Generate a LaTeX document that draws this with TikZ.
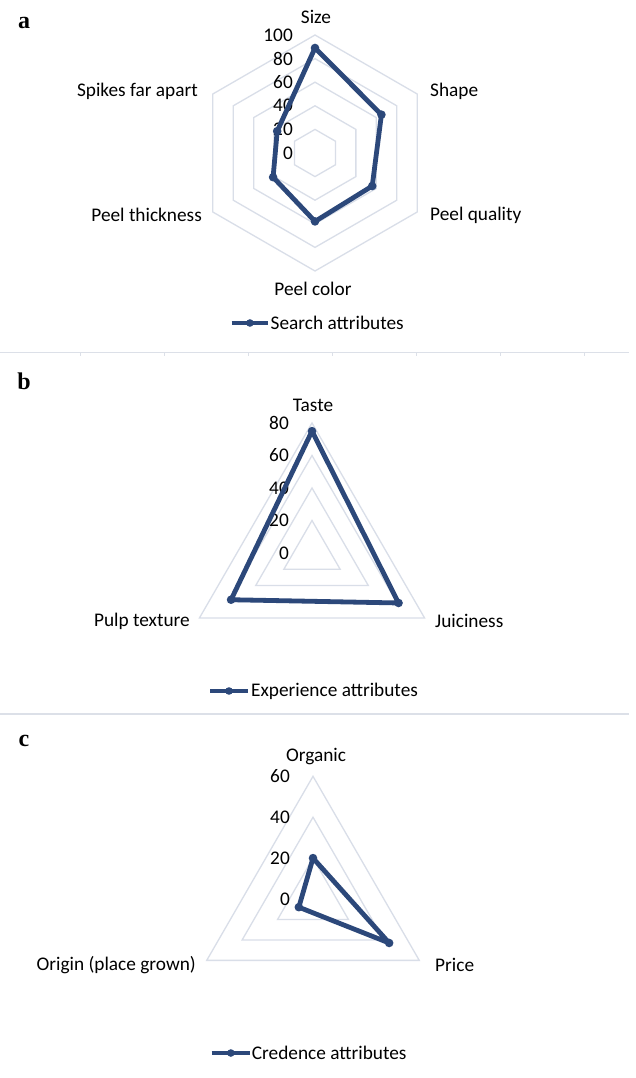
\documentclass[tikz,border=0pt]{standalone}
\usepackage{fontspec}
\setmainfont{Carlito}
\newfontfamily\tnr{Liberation Serif}
\usetikzlibrary{calc}
\definecolor{dblue}{RGB}{44,72,122}
\definecolor{gridc}{RGB}{217,222,232}
\definecolor{sepc}{RGB}{220,224,232}
\tikzset{
  gridline/.style={draw=gridc, line width=1.3pt},
  dataline/.style={draw=dblue, line width=4.8pt, line join=round},
  mk/.style={fill=dblue},
  lbl/.style={inner sep=0pt, font=\fontsize{19.3}{22}\selectfont, text=black},
  vl/.style={inner sep=0pt, font=\fontsize{19.3}{22}\selectfont, text=black, anchor=east},
  panel/.style={inner sep=0pt, font=\tnr\bfseries\fontsize{24}{26}\selectfont},
  sep/.style={draw=sepc, line width=1.5pt},
}
\begin{document}
\begin{tikzpicture}[x=1pt,y=1pt]
\useasboundingbox (0,0) rectangle (636,-1078);
\fill[white] (0,0) rectangle (636,-1078);

% ---------------- Panel a ----------------
\node[panel] (pa) at (24,-23) {a};
\coordinate (ca) at (315,-153);
\foreach \r in {23.6,47.2,70.8,94.4,118}{
  \draw[gridline, shift={(ca)}] (90:\r) -- (30:\r) -- (-30:\r) -- (-90:\r) -- (-150:\r) -- (150:\r) -- cycle;
}
\foreach \v [count=\k from 0] in {0,20,40,60,80,100}{
  \node[vl] (va\k) at ($(ca)+(-22,{23.6*\k})$) {\v};
}
\coordinate (a1) at ($(ca)+(90:{89*1.18})$);
\coordinate (a2) at ($(ca)+(30:{65*1.18})$);
\coordinate (a3) at ($(ca)+(-30:{56*1.18})$);
\coordinate (a4) at ($(ca)+(-90:{58*1.18})$);
\coordinate (a5) at ($(ca)+(-150:{41*1.18})$);
\coordinate (a6) at ($(ca)+(150:{37*1.18})$);
\draw[dataline] (a1) -- (a2) -- (a3) -- (a4) -- (a5) -- (a6) -- cycle;
\foreach \p in {a1,a2,a3,a4,a5,a6}{\fill[mk] (\p) circle (4.3);}
\node[lbl] (la1) at (316,-17) {Size};
\node[lbl, anchor=west] (la2) at (430,-91) {Shape};
\node[lbl, anchor=west] (la3) at (430,-215) {Peel quality};
\node[lbl] (la4) at (313,-289) {Peel color};
\node[lbl, anchor=east] (la5) at (202,-215) {Peel thickness};
\node[lbl, anchor=east] (la6) at (198,-91) {Spikes far apart};
% legend a
\coordinate (lga1) at (231.5,-323);
\coordinate (lga2) at (268.4,-323);
\draw[draw=dblue, line width=4.8pt] (lga1) -- (lga2);
\fill[mk] ($(lga1)!0.5!(lga2)$) circle (3.8);
\node[lbl, anchor=west] (lgat) at (270.5,-323) {Search attributes};

% separator 1
\coordinate (s1a) at (0,-352.3);
\coordinate (s1b) at (629,-352.3);
\draw[sep] (s1a) -- (s1b);
\foreach \k in {0,...,6}{
  \draw[sep] ($(s1a)+({80.7+84*\k},0)$) -- ++(0,-3.5);
}

% ---------------- Panel b ----------------
\node[panel] (pb) at (24,-381) {b};
\coordinate (cb) at (312,-553);
\foreach \r in {32.5,65,97.5,130}{
  \draw[gridline, shift={(cb)}] (90:\r) -- (-30:\r) -- (-150:\r) -- cycle;
}
\foreach \v [count=\k from 0] in {0,20,40,60,80}{
  \node[vl] (vb\k) at ($(cb)+(-23,{32.5*\k})$) {\v};
}
\coordinate (b1) at ($(cb)+(90:{75*1.625})$);
\coordinate (b2) at ($(cb)+(-30:{61.5*1.625})$);
\coordinate (b3) at ($(cb)+(-150:{57.5*1.625})$);
\draw[dataline] (b1) -- (b2) -- (b3) -- cycle;
\foreach \p in {b1,b2,b3}{\fill[mk] (\p) circle (4.3);}
\node[lbl] (lb1) at (313,-405) {Taste};
\node[lbl, anchor=west] (lb2) at (435,-621) {Juiciness};
\node[lbl, anchor=east] (lb3) at (190,-621) {Pulp texture};
% legend b
\coordinate (lgb1) at (210,-691);
\coordinate (lgb2) at (248,-691);
\draw[draw=dblue, line width=4.8pt] (lgb1) -- (lgb2);
\fill[mk] ($(lgb1)!0.5!(lgb2)$) circle (3.8);
\node[lbl, anchor=west] (lgbt) at (251,-691) {Experience attributes};

% separator 2
\coordinate (s2a) at (0,-714);
\coordinate (s2b) at (629,-714);
\draw[sep] (s2a) -- (s2b);

% ---------------- Panel c ----------------
\node[panel] (pc) at (24,-741) {c};
\coordinate (cc) at (313,-899);
\foreach \r in {40.9,81.8,122.7}{
  \draw[gridline, shift={(cc)}] (90:\r) -- (-30:\r) -- (-150:\r) -- cycle;
}
\foreach \v [count=\k from 0] in {0,20,40,60}{
  \node[vl] (vc\k) at ($(cc)+(-23,{40.9*\k})$) {\v};
}
\coordinate (c1) at ($(cc)+(90:{20*2.045})$);
\coordinate (c2) at ($(cc)+(-30:{43*2.045})$);
\coordinate (c3) at ($(cc)+(-150:{8*2.045})$);
\draw[dataline] (c1) -- (c2) -- (c3) -- cycle;
\foreach \p in {c1,c2,c3}{\fill[mk] (\p) circle (4.3);}
\node[lbl] (lc1) at (316,-757) {Organic};
\node[lbl, anchor=west] (lc2) at (435,-965) {Price};
\node[lbl, anchor=east] (lc3) at (196,-965) {Origin (place grown)};
% legend c
\coordinate (lgc1) at (211.7,-1053);
\coordinate (lgc2) at (250,-1053);
\draw[draw=dblue, line width=4.8pt] (lgc1) -- (lgc2);
\fill[mk] ($(lgc1)!0.5!(lgc2)$) circle (3.8);
\node[lbl, anchor=west] (lgct) at (251.7,-1053) {Credence attributes};
\end{tikzpicture}
\end{document}
